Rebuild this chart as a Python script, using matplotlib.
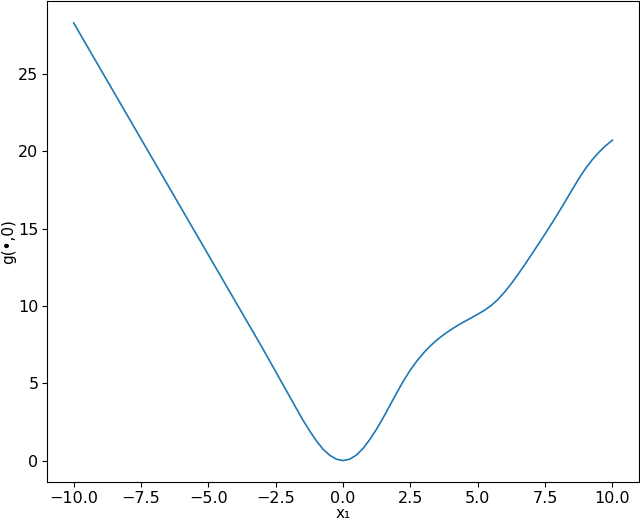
import numpy as np
import matplotlib
matplotlib.use('Agg')
import matplotlib.pyplot as plt

# values
x1 = [-10, -9, -8, -7, -6, -5, -4, -3, -2.5, -2, -1.75, -1.5, -1.25, -1,
      -0.75, -0.5, -0.25,
      0, 0.25, 0.5, 0.75, 1, 1.25, 1.5, 1.75, 2, 2.25, 2.5, 2.75, 3, 3.25,
      3.5, 3.75, 4, 4.25, 4.5, 4.75, 5, 5.25, 5.5, 5.75, 6, 6.25, 6.5, 6.75,
      7, 7.25, 7.5, 7.75, 8, 8.25, 8.5, 8.75, 9, 9.25, 9.5, 9.75, 10]
g_vals = [28.3, 25.3, 22.3, 19.3, 16.3, 13.3, 10.3, 7.3, 5.75, 4.2, 3.42,
          2.65, 1.95, 1.3,
          0.75, 0.35, 0.09,
          0.0, 0.09, 0.36, 0.8, 1.38, 2.05, 2.8, 3.6, 4.4, 5.17, 5.86, 6.46,
          6.98, 7.43, 7.82, 8.16, 8.46, 8.73, 8.98, 9.22, 9.46, 9.72, 10.03,
          10.42, 10.9, 11.45, 12.05, 12.68, 13.33, 13.99, 14.66, 15.34, 16.04,
          16.76, 17.5, 18.22, 18.88, 19.45, 19.94, 20.36, 20.72]

fig = plt.figure(figsize=(6.4, 5.21), dpi=100)
ax = fig.add_axes([0.073, 0.074, 0.926, 0.924])
ax.plot(x1, g_vals, color='C0', lw=1.2)

ax.set_xticks([-10, -7.5, -5, -2.5, 0, 2.5, 5, 7.5, 10])
ax.set_yticks([0, 5, 10, 15, 20, 25])
ax.tick_params(labelsize=11.5, pad=2.5)
ax.set_xlabel('x₁', fontsize=11, labelpad=0)
ax.set_ylabel('g(•,0)', fontsize=11, labelpad=1)

fig.savefig('out.png', dpi=100)
